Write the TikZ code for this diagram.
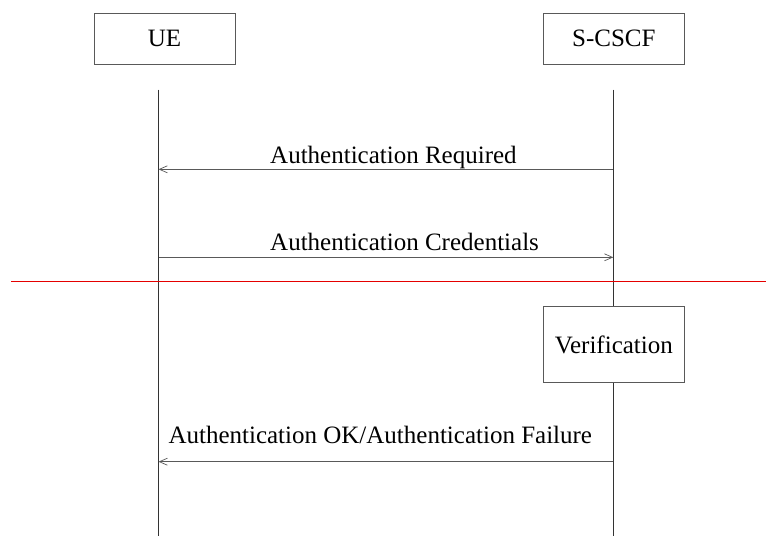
\documentclass[tikz,border=0pt]{standalone}
\usepackage{fontspec}
\setmainfont{Liberation Serif}
\usetikzlibrary{arrows.meta}
\begin{document}
\begin{tikzpicture}[x=1pt,y=-1pt,
  entity/.style={draw=black!65,line width=0.8pt,minimum width=141pt,inner sep=0pt,font=\fontsize{25}{28}\selectfont},
  life/.style={draw=black!80,line width=0.8pt},
  msg/.style={draw=black!65,line width=0.8pt,-{Straight Barb[length=8pt,width=7pt,line width=0.7pt]}},
  lbl/.style={anchor=base west,inner sep=0pt,font=\fontsize{25}{28}\selectfont},
  sep/.style={draw=red!90!black,line width=1.1pt}]
\useasboundingbox (0,0) rectangle (766,536);
% entities
\node[entity,minimum height=50.7pt] (ue) at (164.5,38.7) {UE};
\node[entity,minimum height=50.7pt] (cscf) at (613.8,38.7) {S-CSCF};
\node[entity,minimum height=75.6pt] (ver) at (613.8,344.5) {Verification};
% lifeline ends
\coordinate (uetop) at (158.5,89.5);
\coordinate (uebot) at (158.5,536);
\coordinate (cstop) at (613.3,89.5);
\coordinate (csbot) at (613.3,536);
\draw[life] (uetop) -- (uebot);
\draw[life] (cstop) -- (cstop |- ver.north);
\draw[life] (cstop |- ver.south) -- (csbot);
% message points
\coordinate (ue1) at (158.5,169.3);
\coordinate (cs1) at (613.3,169.3);
\coordinate (ue2) at (158.5,257.3);
\coordinate (cs2) at (613.3,257.3);
\coordinate (ue3) at (158.5,461.7);
\coordinate (cs3) at (613.3,461.7);
\draw[msg] (cs1) -- (ue1);
\draw[msg] (ue2) -- (cs2);
\draw[msg] (cs3) -- (ue3);
\node[lbl] (t1) at (270,163.3) {Authentication Required};
\node[lbl] (t2) at (270,250.7) {Authentication Credentials};
\node[lbl] (t3) at (168.3,443.3) {Authentication OK/Authentication Failure};
% separator
\coordinate (sepl) at (11,281.5);
\coordinate (sepr) at (766,281.5);
\draw[sep] (sepl) -- (sepr);
\end{tikzpicture}
\end{document}
